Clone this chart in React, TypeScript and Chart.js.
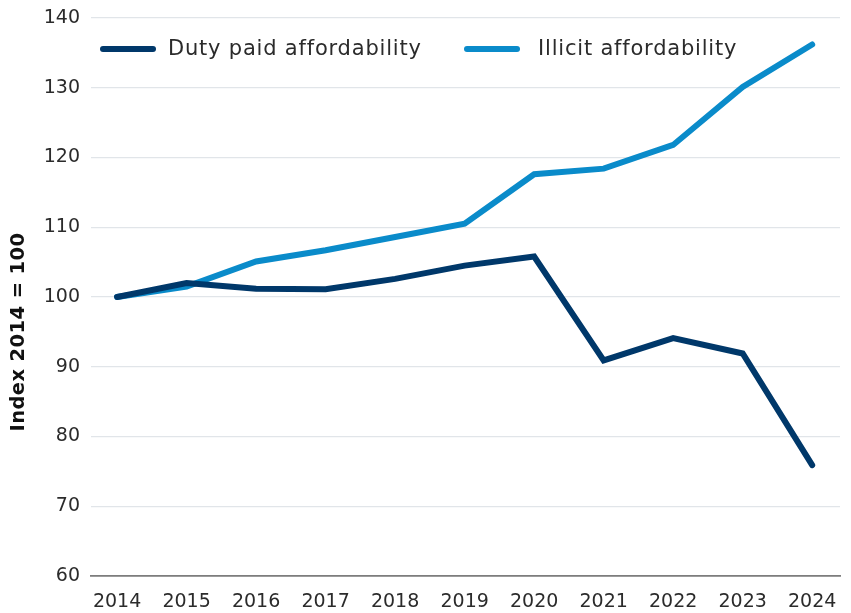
import React, { useEffect, useRef } from 'react';
import { Chart, registerables } from 'chart.js';

Chart.register(...registerables);

const years = [2014, 2015, 2016, 2017, 2018, 2019, 2020, 2021, 2022, 2023, 2024];
const dutyPaid = [100, 102.0, 101.2, 101.1, 102.6, 104.5, 105.8, 90.9, 94.1, 91.9, 75.9];
const illicit = [100, 101.5, 105.1, 106.7, 108.6, 110.5, 117.6, 118.4, 121.8, 130.1, 136.2];
const yTickValues = [60, 70, 80, 90, 100, 110, 120, 130, 140];
const seriesLabels = ['Duty paid affordability', 'Illicit affordability'];
const seriesColors = ['#00386a', '#0a8bca'];
const yTitle = 'Index 2014 = 100';

const FONT = '"DejaVu Sans", sans-serif';

const overlayPlugin = {
  id: 'overlay',
  afterDraw(chart: any) {
    const ctx = chart.ctx as CanvasRenderingContext2D;
    ctx.save();
    const legendItems = [
      { x: 100, textX: 168 },
      { x: 464, textX: 538 },
    ];
    chart.data.datasets.forEach((ds: any, i: number) => {
      const it = legendItems[i];
      const y = 49;
      ctx.strokeStyle = ds.borderColor;
      ctx.lineWidth = 6;
      ctx.lineCap = 'round';
      ctx.beginPath();
      ctx.moveTo(it.x + 3, y);
      ctx.lineTo(it.x + 53, y);
      ctx.stroke();
      ctx.fillStyle = '#2b2b2b';
      ctx.font = `21px ${FONT}`;
      (ctx as any).letterSpacing = '0.8px';
      ctx.textAlign = 'left';
      ctx.textBaseline = 'middle';
      ctx.fillText(ds.label, it.textX, y + 1);
    });
    (ctx as any).letterSpacing = '0.4px';
    ctx.translate(19, 332);
    ctx.rotate(-Math.PI / 2);
    ctx.fillStyle = '#111';
    ctx.font = `bold 19.5px ${FONT}`;
    ctx.textAlign = 'center';
    ctx.textBaseline = 'middle';
    ctx.fillText(yTitle, 0, 0);
    ctx.restore();
  },
};

export default function App() {
  const ref = useRef<HTMLCanvasElement | null>(null);
  useEffect(() => {
    document.body.style.margin = '0';
    const canvas = ref.current;
    if (!canvas) return;
    const chart = new Chart(canvas, {
      type: 'line',
      data: {
        datasets: [
          {
            label: seriesLabels[0],
            data: years.map((y, i) => ({ x: y, y: dutyPaid[i] })),
            borderColor: seriesColors[0],
            backgroundColor: seriesColors[0],
            borderWidth: 6,
            pointRadius: 0,
            borderCapStyle: 'round',
            borderJoinStyle: 'miter',
            tension: 0,
          },
          {
            label: seriesLabels[1],
            data: years.map((y, i) => ({ x: y, y: illicit[i] })),
            borderColor: seriesColors[1],
            backgroundColor: seriesColors[1],
            borderWidth: 6,
            pointRadius: 0,
            borderCapStyle: 'round',
            borderJoinStyle: 'miter',
            tension: 0,
          },
        ],
      },
      options: {
        animation: false,
        responsive: false,
        devicePixelRatio: 1,
        layout: { padding: { top: 18, right: 11, left: 0, bottom: 0 } },
        plugins: {
          legend: { display: false },
          tooltip: { enabled: false },
        },
        scales: {
          x: {
            type: 'linear',
            min: 2013.625,
            max: 2024.4,
            afterBuildTicks: (axis: any) => {
              axis.ticks = years.map((v) => ({ value: v }));
            },
            afterFit: (axis: any) => {
              axis.height = 37;
              axis.paddingLeft = 0;
              axis.paddingRight = 0;
            },
            grid: { display: false, drawTicks: false },
            border: { display: true, color: '#7d7d7d', width: 1.8 },
            ticks: {
              padding: 15,
              color: '#2b2b2b',
              font: { family: FONT, size: 19 },
              maxRotation: 0,
              autoSkip: false,
              callback: (v: any) => String(v),
            },
          },
          y: {
            min: 60,
            max: 140,
            afterBuildTicks: (axis: any) => {
              axis.ticks = yTickValues.map((v) => ({ value: v }));
            },
            afterFit: (axis: any) => {
              axis.width = 91;
              axis.paddingTop = 0;
              axis.paddingBottom = 0;
            },
            grid: { color: '#e1e5e9', lineWidth: 1.2, drawTicks: false },
            border: { display: false },
            ticks: {
              padding: 11,
              color: '#2b2b2b',
              font: { family: FONT, size: 19 },
            },
          },
        },
      },
      plugins: [overlayPlugin],
    } as any);
    return () => chart.destroy();
  }, []);
  return (
    <div style={{ width: 851, height: 613 }}>
      <canvas ref={ref} width={851} height={613} style={{ display: 'block' }} />
    </div>
  );
}
